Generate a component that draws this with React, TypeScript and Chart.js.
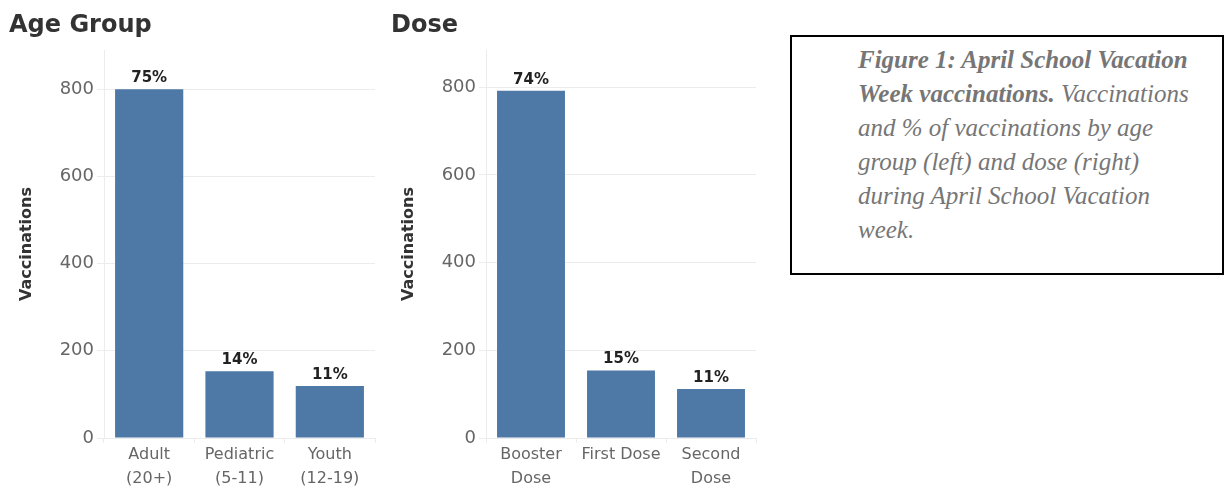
import React, { useEffect, useRef } from "react";
import { Chart, registerables } from "chart.js";

Chart.register(...registerables);

// ---- data ----
const ageCategories: (string | string[])[] = [["Adult", "(20+)"], ["Pediatric", "(5-11)"], ["Youth", "(12-19)"]];
const ageValues = [800, 153, 119];
const agePercentLabels = ["75%", "14%", "11%"];

const doseCategories: (string | string[])[] = [["Booster", "Dose"], "First Dose", ["Second", "Dose"]];
const doseValues = [792, 154, 112];
const dosePercentLabels = ["74%", "15%", "11%"];

const yTickValues = [0, 200, 400, 600, 800];

const captionLines = [
  { bold: "Figure 1: April School Vacation", normal: "" },
  { bold: "Week vaccinations.", normal: " Vaccinations" },
  { bold: "", normal: "and % of vaccinations by age" },
  { bold: "", normal: "group (left) and dose (right)" },
  { bold: "", normal: "during April School Vacation" },
  { bold: "", normal: "week." },
];

const SANS = '"DejaVu Sans", sans-serif';
const BAR_COLOR = "#4e79a7";
const GRID_COLOR = "#ececec";

const pctPlugin = {
  id: "pctLabels",
  afterDatasetsDraw(chart: any, _args: any, opts: any) {
    const meta = chart.getDatasetMeta(0);
    const ctx = chart.ctx;
    ctx.save();
    ctx.font = `bold 15px ${SANS}`;
    ctx.fillStyle = "#222222";
    ctx.textAlign = "center";
    ctx.textBaseline = "alphabetic";
    meta.data.forEach((el: any, i: number) => {
      ctx.fillText(opts.labels[i], el.x, el.y - 7);
    });
    ctx.restore();
  },
};

type BarProps = {
  labels: (string | string[])[];
  values: number[];
  pct: string[];
  yMax: number;
  left: number;
  width: number;
  padRight: number;
};

function BarChart({ labels, values, pct, yMax, left, width, padRight }: BarProps) {
  const ref = useRef<HTMLCanvasElement | null>(null);
  useEffect(() => {
    if (!ref.current) return;
    const chart = new Chart(ref.current, {
      type: "bar",
      data: {
        labels,
        datasets: [
          {
            data: values,
            backgroundColor: BAR_COLOR,
            borderWidth: 0,
            barPercentage: 0.755,
            categoryPercentage: 1,
          },
        ],
      },
      options: {
        animation: false,
        responsive: false,
        maintainAspectRatio: false,
        layout: { padding: { top: 50, right: padRight, left: 0, bottom: 0 } },
        plugins: {
          legend: { display: false },
          tooltip: { enabled: false },
          pctLabels: { labels: pct },
        } as any,
        scales: {
          x: {
            grid: {
              offset: true,
              drawOnChartArea: false,
              drawTicks: true,
              tickLength: 5,
              color: GRID_COLOR,
            },
            border: { display: true, color: GRID_COLOR },
            ticks: {
              font: { family: SANS, size: 16, lineHeight: 1.5 },
              color: "#666666",
              padding: 0,
              maxRotation: 0,
              autoSkip: false,
            },
            afterFit(scale: any) {
              scale.height = 51;
            },
          },
          y: {
            min: 0,
            max: yMax,
            afterBuildTicks(scale: any) {
              scale.ticks = yTickValues.map((v) => ({ value: v }));
            },
            grid: {
              color: GRID_COLOR,
              drawTicks: true,
              tickLength: 7,
            },
            border: { display: true, color: GRID_COLOR },
            ticks: {
              font: { family: SANS, size: 18 },
              color: "#666666",
              padding: 3,
            },
            title: {
              display: true,
              text: "Vaccinations",
              font: { family: SANS, size: 16, weight: "bold" },
              color: "#333333",
              padding: { top: 17, bottom: 0 },
            },
            afterFit(scale: any) {
              scale.width = 104;
            },
          },
        },
      },
      plugins: [pctPlugin],
    });
    return () => chart.destroy();
  }, []);
  return (
    <canvas
      ref={ref}
      width={width}
      height={489}
      style={{ position: "absolute", left, top: 0, width, height: 489 }}
    />
  );
}

const titleStyle: React.CSSProperties = {
  position: "absolute",
  top: 12,
  fontFamily: SANS,
  fontWeight: "bold",
  fontSize: 24,
  lineHeight: "24px",
  color: "#333333",
  whiteSpace: "nowrap",
};

export default function App() {
  return (
    <div
      style={{
        position: "absolute",
        left: 0,
        top: 0,
        width: 1225,
        height: 489,
        background: "#ffffff",
        overflow: "hidden",
      }}
    >
      <BarChart labels={ageCategories} values={ageValues} pct={agePercentLabels} yMax={890} left={0} width={380} padRight={5} />
      <BarChart labels={doseCategories} values={doseValues} pct={dosePercentLabels} yMax={885} left={382} width={380} padRight={6} />
      <div style={{ ...titleStyle, left: 9 }}>Age Group</div>
      <div style={{ ...titleStyle, left: 391 }}>Dose</div>
      <div
        style={{
          position: "absolute",
          left: 790,
          top: 35,
          width: 434,
          height: 240,
          boxSizing: "border-box",
          border: "2px solid #000000",
          paddingLeft: 66,
          paddingTop: 6,
          fontFamily: '"Liberation Serif", serif',
          fontStyle: "italic",
          fontSize: 25,
          lineHeight: "34px",
          color: "#767676",
        }}
      >
        {captionLines.map((ln, i) => (
          <div key={i} style={{ whiteSpace: "nowrap" }}>
            {ln.bold ? <b>{ln.bold}</b> : null}
            {ln.normal}
          </div>
        ))}
      </div>
    </div>
  );
}
